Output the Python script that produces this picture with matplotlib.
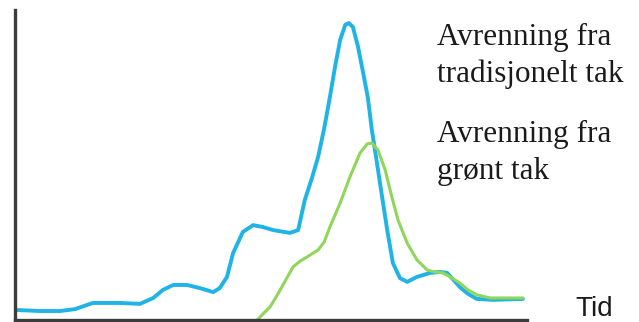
import matplotlib.pyplot as plt

# tid (0-100) og avrenning (0-100), lest av bildet
tid_tradisjonelt = [0.6, 4.9, 8.8, 11.7, 15.2, 20.5, 24.4, 27.0, 28.9, 30.9,
                    33.6, 36.1, 38.7, 40.0, 41.4, 42.6, 44.5, 46.5, 48.4, 50.4,
                    53.7, 55.3, 56.6, 58.0, 59.2, 60.4, 61.5, 62.5, 63.5, 64.5,
                    65.2, 66.0, 67.0, 68.0, 68.9, 69.7, 70.7, 71.7, 72.7, 73.8,
                    75.2, 76.6, 78.5, 81.1, 83.0, 84.4, 85.5, 86.9, 88.5, 90.2,
                    93.4, 99.2]
avrenning_tradisjonelt = [3.2, 2.9, 2.9, 3.5, 5.5, 5.5, 5.2, 7.1, 9.7, 11.3,
                          11.3, 10.3, 9.0, 10.3, 13.9, 21.6, 28.4, 30.6, 30.0, 29.0,
                          28.1, 29.0, 38.7, 45.8, 52.6, 61.9, 71.9, 81.6, 90.3, 95.2,
                          95.8, 94.5, 88.1, 79.7, 71.9, 61.3, 50.6, 39.7, 29.0, 18.4,
                          13.5, 12.3, 13.9, 15.2, 15.5, 15.2, 13.2, 10.6, 8.4, 6.8,
                          6.5, 6.8]

tid_gront = [47.3, 48.4, 49.8, 51.0, 52.1, 54.3, 55.7, 57.0, 59.2, 60.4,
             61.5, 63.5, 65.4, 67.4, 68.8, 69.7, 70.9, 72.3, 73.6, 74.8,
             76.6, 78.5, 80.5, 82.0, 83.6, 85.4, 86.9, 88.5, 90.2, 92.8, 99.2]
avrenning_gront = [0.0, 1.9, 4.2, 7.4, 10.6, 17.1, 19.0, 20.3, 22.6, 25.2,
                   30.0, 37.7, 46.1, 53.9, 56.8, 57.1, 54.8, 48.4, 39.7, 32.3,
                   24.8, 19.4, 16.1, 15.5, 15.2, 13.5, 11.9, 9.7, 8.1, 7.1, 7.1]

fig = plt.figure(figsize=(6.39, 3.22), dpi=100)
ax = fig.add_axes([15 / 639, 2 / 322, 512 / 639, 310 / 322])

ax.plot(tid_tradisjonelt, avrenning_tradisjonelt, color="#1fb3e6", lw=2.8,
        solid_joinstyle="round", solid_capstyle="round")
ax.plot(tid_gront, avrenning_gront, color="#8fd65a", lw=2.2,
        solid_joinstyle="round", solid_capstyle="round")

ax.set_xlim(0, 100)
ax.set_ylim(0, 100)
for side in ["top", "right"]:
    ax.spines[side].set_visible(False)
for side in ["left", "bottom"]:
    ax.spines[side].set_color("#3c3c3c")
    ax.spines[side].set_linewidth(2.4)
ax.set_xticks([])
ax.set_yticks([])

serif = dict(family="Liberation Serif", fontsize=22.5, color="#1a1a1a", va="baseline")
fig.text(437 / 639, 1 - 45 / 322, "Avrenning fra", **serif)
fig.text(437 / 639, 1 - 82 / 322, "tradisjonelt tak", **serif)
fig.text(437 / 639, 1 - 142 / 322, "Avrenning fra", **serif)
fig.text(437 / 639, 1 - 179 / 322, "grønt tak", **serif)

fig.text(575 / 639, 6 / 322, "Tid", family="Liberation Sans", fontsize=20,
         color="#1a1a1a", va="baseline")

plt.savefig("out.png", dpi=100)
